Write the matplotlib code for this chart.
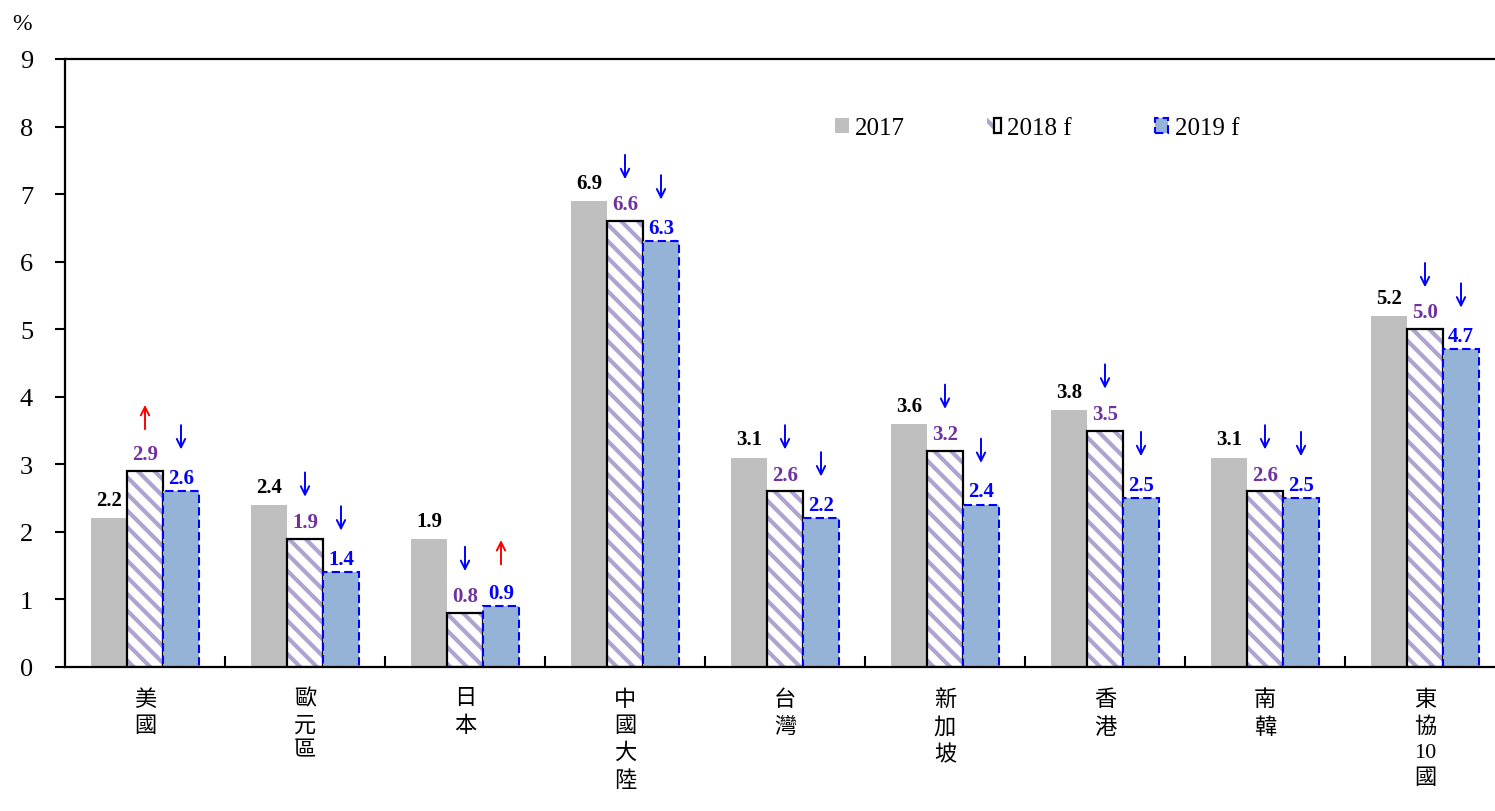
import matplotlib.pyplot as plt
import numpy as np
from matplotlib.patches import Patch
from matplotlib.legend_handler import HandlerTuple

plt.rcParams['font.family'] = ['Liberation Serif', 'Noto Sans CJK TC']
plt.rcParams['axes.unicode_minus'] = False
plt.rcParams['hatch.linewidth'] = 3.0

regions = ['美國', '歐元區', '日本', '中國大陸', '台灣', '新加坡', '香港', '南韓', '東協10國']
tick_labels = ['美\n國', '歐\n元\n區', '日\n本', '中\n國\n大\n陸', '台\n灣', '新\n加\n坡', '香\n港', '南\n韓', '東\n協\n10\n國']
g2017 = [2.2, 2.4, 1.9, 6.9, 3.1, 3.6, 3.8, 3.1, 5.2]
g2018 = [2.9, 1.9, 0.8, 6.6, 2.6, 3.2, 3.5, 2.6, 5.0]
g2019 = [2.6, 1.4, 0.9, 6.3, 2.2, 2.4, 2.5, 2.5, 4.7]
# revision direction vs. previous forecast
rev2018 = ['up', 'down', 'down', 'down', 'down', 'down', 'down', 'down', 'down']
rev2019 = ['down', 'down', 'up', 'down', 'down', 'down', 'down', 'down', 'down']

gray = '#BFBFBF'
purple = '#7030A0'
stripe = '#AFA3D0'
lightblue = '#95B3D7'
blue = '#0000FF'

fig = plt.figure(figsize=(14.95, 8.12), dpi=100)
ax = fig.add_axes([65/1495, (812-668)/812, 1440/1495, 608/812])

x = np.arange(len(regions))
w = 0.225

b17 = ax.bar(x - w, g2017, w, color=gray, linewidth=0)
b18h = ax.bar(x, g2018, w, color='white', edgecolor=stripe, hatch='\\\\', linewidth=0)
b18 = ax.bar(x, g2018, w, fill=False, edgecolor='black', linewidth=1.6)
b19 = ax.bar(x + w, g2019, w, color=lightblue, edgecolor=blue, linewidth=1.5,
             linestyle=(0, (4, 2)))

for i in range(len(regions)):
    ax.text(x[i] - w, g2017[i] + 0.12, f'{g2017[i]:.1f}', ha='center', va='bottom',
            fontsize=15, fontweight='bold', color='black')
    ax.text(x[i], g2018[i] + 0.1, f'{g2018[i]:.1f}', ha='center', va='bottom',
            fontsize=15, fontweight='bold', color=purple)
    ax.text(x[i] + w, g2019[i] + 0.05, f'{g2019[i]:.1f}', ha='center', va='bottom',
            fontsize=15, fontweight='bold', color=blue)

# revision arrows above the forecast bars
for xs, vals, revs in [(x, g2018, rev2018), (x + w, g2019, rev2019)]:
    for xi, v, r in zip(xs, vals, revs):
        lo, hi = v + 0.62, v + 0.98
        if r == 'up':
            ax.annotate('', xy=(xi, hi), xytext=(xi, lo),
                        arrowprops=dict(arrowstyle='->', color='red', lw=1.4,
                                        mutation_scale=15, shrinkA=0, shrinkB=0))
        else:
            ax.annotate('', xy=(xi, lo), xytext=(xi, hi),
                        arrowprops=dict(arrowstyle='->', color=blue, lw=1.4,
                                        mutation_scale=15, shrinkA=0, shrinkB=0))

ax.set_xlim(-0.5, len(regions) - 0.5)
ax.set_ylim(0, 9)
ax.set_yticks(range(10))
ax.tick_params(axis='y', direction='out', length=7, width=1.5, labelsize=19, pad=16)
ax.set_xticks(x)
ax.set_xticklabels(tick_labels, fontsize=16, linespacing=1.45, va='top')
ax.tick_params(axis='x', length=0, pad=16)
ax.set_xticks(np.arange(0.5, len(regions) - 0.5), minor=True)
ax.tick_params(axis='x', which='minor', direction='in', length=8, width=1.5)
for side in ['left', 'top', 'bottom']:
    ax.spines[side].set_linewidth(1.6)
ax.spines['right'].set_visible(False)

fig.text(22/1495, 1 - 25/812, '%', ha='center', va='center', fontsize=17)

h18 = (Patch(facecolor='white', edgecolor=stripe, hatch='\\\\', linewidth=0),
       Patch(fill=False, edgecolor='black', linewidth=1.6))
ax.legend([b17[0], h18, b19[0]], ['2017', '2018 f', '2019 f'],
          handler_map={tuple: HandlerTuple(ndivide=None)},
          ncol=3, frameon=False, fontsize=18, loc='upper left',
          bbox_to_anchor=(835/1495, (812-118)/812), bbox_transform=fig.transFigure,
          borderpad=0, borderaxespad=0, handlelength=0.55, handleheight=0.55,
          handletextpad=0.25, columnspacing=3.3)

fig.savefig('out.png', dpi=100)
